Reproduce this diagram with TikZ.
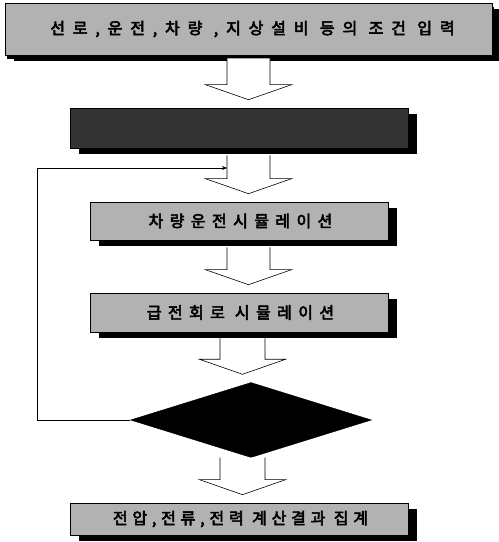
\documentclass[tikz,border=0pt]{standalone}
\usepackage{fontspec}
\newfontfamily\kr{Noto Sans CJK KR}[AutoFakeBold=3.5,LetterSpace=30]
\newfontfamily\krwide{Noto Sans CJK KR}[AutoFakeBold=3.5,LetterSpace=49]
\newfontfamily\krmid{Noto Sans CJK KR}[AutoFakeBold=3.5,LetterSpace=40]
\usetikzlibrary{shapes.geometric,shadows,arrows.meta,calc}
\begin{document}
\begin{tikzpicture}[x=1pt,y=1pt,
  box/.style={draw=black,line width=0.6pt,fill=black!30,inner sep=0pt,
    font=\kr\bfseries\fontsize{16}{18}\selectfont,
    drop shadow={shadow xshift=9pt,shadow yshift=-6pt,fill=black,opacity=1}},
  midtext/.style={font=\krmid\bfseries\fontsize{16}{18}\selectfont},
  widetext/.style={font=\krwide\bfseries\fontsize{16}{18}\selectfont},
  darkbox/.style={box,fill=black!80},
  barrow/.style={draw=black,line width=0.6pt,fill=white},
  loopline/.style={draw=black,line width=0.7pt},
]
\useasboundingbox (0,0) rectangle (499,542);
% nodes
\node[box,widetext,minimum width=487pt,minimum height=52pt,
  drop shadow={shadow xshift=2pt,shadow yshift=-4pt,fill=black,opacity=1}]
  (n1) at (248.5,513) {\hspace{8pt}선로,운전,차량 ,지상설비 등의 조건 입력};
\node[darkbox,minimum width=338pt,minimum height=40pt] (n2) at (239,414) {};
\node[box,midtext,minimum width=298pt,minimum height=38pt] (n3) at (239,321) {\hspace{3pt}차량운전시뮬레이션};
\node[box,midtext,minimum width=298pt,minimum height=39pt] (n4) at (239,229.5) {\hspace{3pt}급전회로 시뮬레이션};
\node[diamond,draw=black,fill=black,inner sep=0pt,minimum width=241pt,minimum height=75pt] (d) at (251,122) {};
\node[box,minimum width=338pt,minimum height=32pt] (n5) at (239,23) {\hspace{3pt}전압,전류,전력 계산결과 집계};
% arrow axes
\coordinate (a1) at (248.5,0);
\coordinate (a4) at (242.5,0);
\newcommand{\blockarr}[5]{% axis, from, to, shaft half, head half
  \draw[barrow]
    ($(#1 |- #2.south)+(-#4,-#5)$)
    -- ($(#1 |- #3.north)+(-#4,23)$)
    -- ($(#1 |- #3.north)+(-43,23)$)
    -- ($(#1 |- #3.north)+(0,8)$)
    -- ($(#1 |- #3.north)+(43,23)$)
    -- ($(#1 |- #3.north)+(#4,23)$)
    -- ($(#1 |- #2.south)+(#4,-#5)$);}
\blockarr{a1}{n1}{n2}{21.5}{3}
\blockarr{a1}{n2}{n3}{21.5}{7}
\blockarr{a1}{n3}{n4}{21.5}{7}
\blockarr{a4}{n4}{d}{22.5}{6}
\blockarr{a4}{d}{n5}{22.5}{0}
% loop back
\coordinate (lp) at (37,374);
\coordinate (ent) at (227,374);
\draw[loopline,-{Stealth[length=5pt,width=4pt]}] (d.west) -| (lp) -- (ent);
\end{tikzpicture}
\end{document}
